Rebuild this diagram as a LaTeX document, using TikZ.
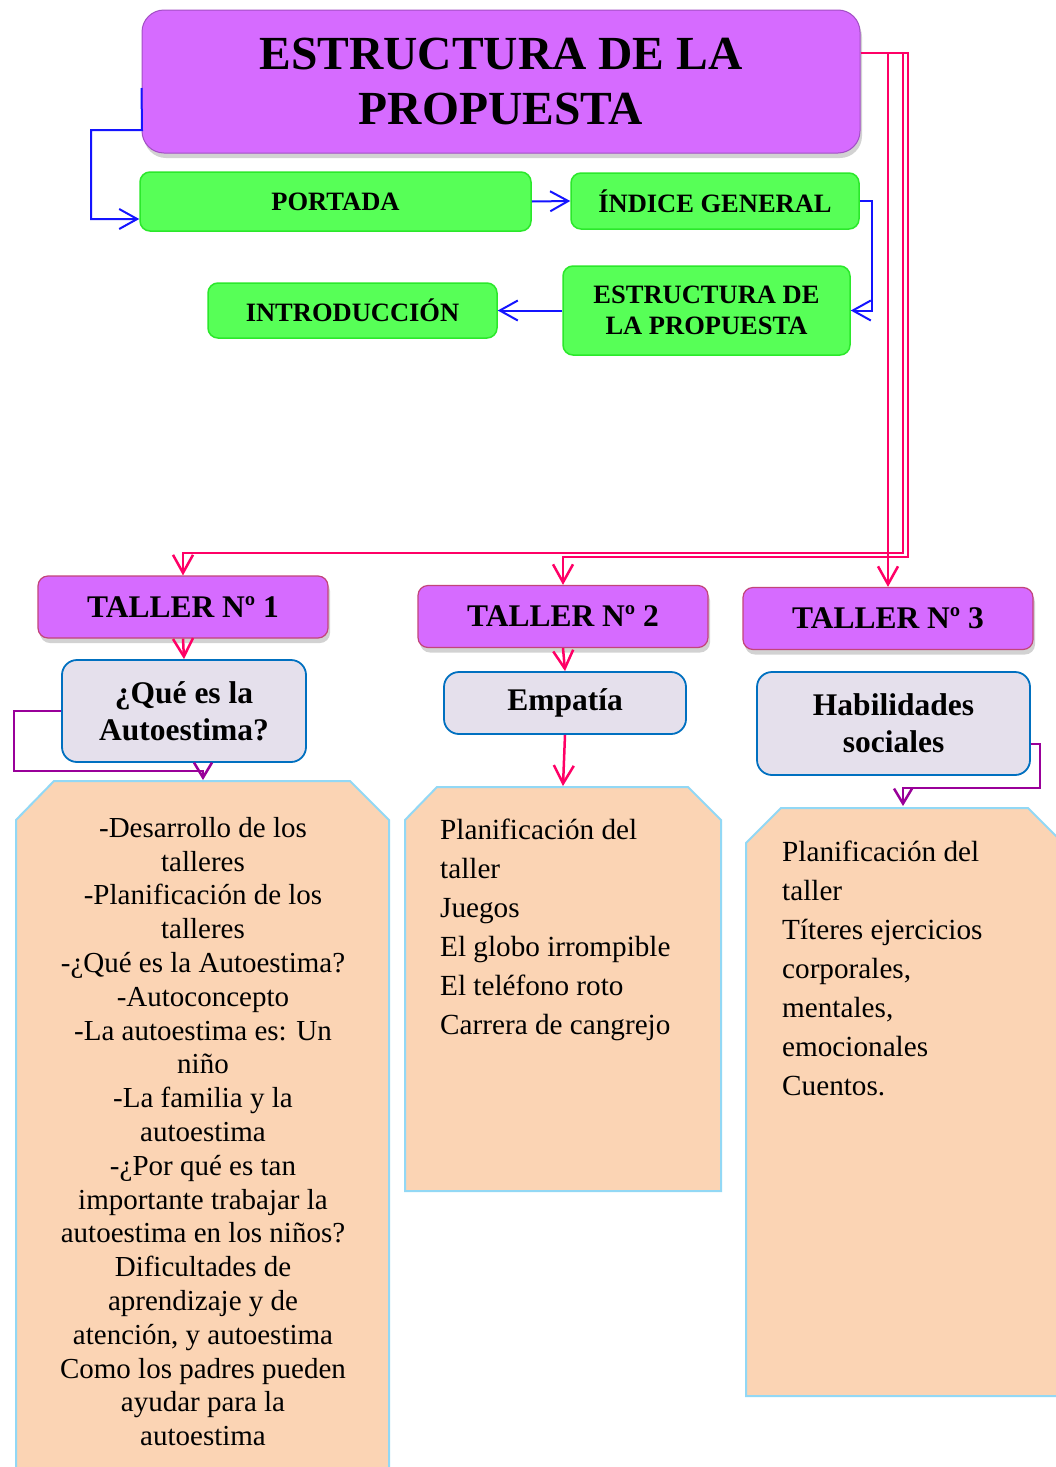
\documentclass[tikz,border=0pt]{standalone}
\usepackage{fontspec}
\setmainfont{Liberation Serif}
\usetikzlibrary{arrows.meta,shadows,calc}
\definecolor{vio}{HTML}{D66BFF}
\definecolor{viol}{HTML}{F6A3FF}
\definecolor{grn}{HTML}{57FF57}
\definecolor{grnb}{HTML}{2BE82B}
\definecolor{lav}{HTML}{E5E0EC}
\definecolor{lavb}{HTML}{0070C0}
\definecolor{peach}{HTML}{FBD4B4}
\definecolor{peachb}{HTML}{92D8F5}
\definecolor{pk}{HTML}{FF0066}
\definecolor{pu}{HTML}{990099}
\definecolor{bl}{HTML}{1414FF}
\definecolor{titb}{HTML}{A24FC4}
\definecolor{talb}{HTML}{C2457A}
\pgfdeclareverticalshading{violetsh}{100bp}{color(0bp)=(vio); color(84bp)=(vio); color(95bp)=(viol); color(100bp)=(viol)}
\begin{document}
\begin{tikzpicture}[x=1pt,y=-1pt,line join=miter,
  titlebox/.style={rounded corners=22pt, shading=violetsh, draw=titb, line width=1pt,
    drop shadow={shadow xshift=2pt,shadow yshift=-5pt,opacity=.35},
    minimum width=718pt, minimum height=143pt, align=center, inner sep=0pt,
    font=\bfseries\fontsize{47.5}{55}\selectfont},
  tallerbox/.style={rounded corners=10pt, shading=violetsh, draw=talb, line width=1.2pt,
    drop shadow={shadow xshift=2pt,shadow yshift=-5pt,opacity=.35},
    minimum width=290pt, minimum height=62pt, inner sep=0pt,
    font=\bfseries\fontsize{31.5}{37}\selectfont},
  greenbox/.style={rounded corners=10pt, fill=grn, draw=grnb, line width=1.5pt,
    align=center, inner sep=0pt, font=\bfseries\fontsize{26.5}{31}\selectfont},
  lavbox/.style={rounded corners=15pt, fill=lav, draw=lavb, line width=1.8pt,
    align=center, inner sep=0pt, font=\bfseries\fontsize{31.5}{37}\selectfont},
  peachshape/.style={fill=peach, draw=peachb, line width=2pt},
  peachtext/.style={inner sep=0pt, font=\fontsize{29}{33.8}\selectfont},
  peachtexttwo/.style={inner sep=0pt, font=\fontsize{29.2}{39}\selectfont},
  bluearrow/.style={draw=bl, line width=2pt, -{Straight Barb[length=18pt,width=20pt]}},
  pinkarrow/.style={draw=pk, line width=2.5pt, -{Straight Barb[length=18pt,width=20pt]}},
  purplearrow/.style={draw=pu, line width=2.5pt, -{Straight Barb[length=15pt,width=18pt]}}
]
\fill[white] (0,0) rectangle (1055,1467);
\useasboundingbox (0,0) rectangle (1055,1467);

% peach boxes
\draw[peachshape] (16,1490) -- (16,820) -- (54,781) -- (350,781) -- (389,820) -- (389,1490) -- cycle;
\draw[peachshape] (405,1191) -- (405,820) -- (437,787) -- (688,787) -- (721,820) -- (721,1191) -- cycle;
\draw[peachshape] (746,1396) -- (746,843) -- (781,808) -- (1028,808) -- (1063,843) -- (1063,1396) -- cycle;

% title
\node[titlebox] (title) at (501,81.5) {ESTRUCTURA DE LA\\PROPUESTA};

% green boxes
\node[greenbox, minimum width=391pt, minimum height=59pt] (portada) at (335.5,201.5) {PORTADA};
\node[greenbox, minimum width=288pt, minimum height=56pt] (indice) at (715,201) {ÍNDICE GENERAL};
\node[greenbox, minimum width=287pt, minimum height=89pt] (estr) at (706.5,310.5) {ESTRUCTURA DE\\LA PROPUESTA};
\node[greenbox, minimum width=289pt, minimum height=55pt] (intro) at (352.5,310.5) {INTRODUCCIÓN};

% talleres
\node[tallerbox] (t1) at (183,607) {TALLER Nº 1};
\node[tallerbox] (t2) at (563,616.5) {TALLER Nº 2};
\node[tallerbox] (t3) at (888,618.5) {TALLER Nº 3};

% lavender boxes
\node[lavbox, minimum width=244pt, minimum height=102pt] (q) at (184,711) {¿Qué es la\\Autoestima?};
\node[lavbox, minimum width=242pt, minimum height=62pt] (emp) at (565,703) {Empatía};
\node[lavbox, minimum width=273pt, minimum height=103pt] (hab) at (893.5,723.5) {Habilidades\\sociales};

% peach texts
\node[peachtext, align=center, anchor=north] (txt1) at (203,817) {-Desarrollo de los\\talleres\\-Planificación de los\\talleres\\-¿Qué es la Autoestima?\\-Autoconcepto\\-La autoestima es: Un\\niño\\-La familia y la\\autoestima\\-¿Por qué es tan\\importante trabajar la\\autoestima en los niños?\\Dificultades de\\aprendizaje y de\\atención, y autoestima\\Como los padres pueden\\ayudar para la\\autoestima};
\node[peachtexttwo, align=left, anchor=north west] (txt2) at (440,819) {Planificación del\\taller\\Juegos\\El globo irrompible\\El teléfono roto\\Carrera de cangrejo};
\node[peachtexttwo, align=left, anchor=north west] (txt3) at (782,841) {Planificación del\\taller\\Títeres ejercicios\\corporales,\\mentales,\\emocionales\\Cuentos.};

% coordinates
\coordinate (tstart) at ($(title.west)+(0,6.5)$);
\coordinate (ba) at (142,130);
\coordinate (bb) at (91,130);
\coordinate (pin) at ($(portada.west)+(0,17.5)$);
\coordinate (ib) at (872,201);
\coordinate (tr) at ($(title.east)+(0,-28.5)$);
\coordinate (k1) at (903,553);
\coordinate (k2) at (908,557);
\coordinate (p1top) at (203,780);
\coordinate (qa) at (14,771);
\coordinate (qb) at (203,771);
\coordinate (p2top) at (563,786);
\coordinate (hs) at ($(hab.east)+(0,20.5)$);
\coordinate (ha) at (1040,788);
\coordinate (hb) at (903,788);
\coordinate (p3top) at (903,806);

% blue connectors
\draw[bluearrow] (tstart) -- (ba) -- (bb) |- (pin);
\draw[bluearrow] (portada.east) -- (indice.west);
\draw[bluearrow] (indice.east) -- (ib) |- (estr.east);
\draw[bluearrow] (estr.west) -- (intro.east);

% pink connectors
\draw[pinkarrow] (tr) -| (t3.north);
\draw[pinkarrow] (tr) -| (k1) -| (t1.north);
\draw[pinkarrow] (tr) -| (k2) -| (t2.north);
\draw[pinkarrow] (t1.south) -- (q.north);
\draw[pinkarrow] (t2.south) -- (emp.north);
\draw[pinkarrow] (emp.south) -- (p2top);

% purple connectors
\draw[purplearrow] (q.west) -| (qa) -- (qb) -- (p1top);
\draw[purplearrow] (hs) -| (ha) -- (hb) -- (p3top);
\end{tikzpicture}
\end{document}
